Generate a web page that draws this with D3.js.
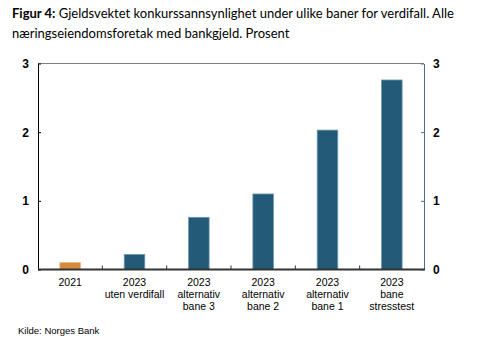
<!DOCTYPE html>
<html><head><meta charset="utf-8">
<script src="https://cdn.jsdelivr.net/npm/d3@7"></script>
<style>body{margin:0;background:#fff}svg{display:block}</style>
</head><body>
<svg id="c" width="488" height="346"></svg>
<script>
const categories = [["2021"],["2023","uten verdifall"],["2023","alternativ","bane 3"],["2023","alternativ","bane 2"],["2023","alternativ","bane 1"],["2023","bane","stresstest"]];
const values = [0.1, 0.22, 0.76, 1.1, 2.03, 2.76];
const barColors = ["#D48B3C","#225A78","#225A78","#225A78","#225A78","#225A78"];
const yTicks = [0,1,2,3];

const svg = d3.select("#c");
const L=38, R=424, T=63.5, B=269.5;
const x = d3.scaleBand().domain(d3.range(categories.length)).range([L,R]).paddingInner(0.68).paddingOuter(0.34);
const y = d3.scaleLinear().domain([0,3]).range([B,T]);

// title
const title = svg.append("text").attr("x",12).attr("y",18).style("font-family","Lato, 'Open Sans', sans-serif").style("font-size","13px").attr("fill","#000");
title.append("tspan").attr("font-weight","bold").text("Figur 4:");
title.append("tspan").text(" Gjeldsvektet konkurssannsynlighet under ulike baner for verdifall. Alle");
svg.append("text").attr("x",12).attr("y",38).style("font-family","Lato, 'Open Sans', sans-serif").style("font-size","13px").text("næringseiendomsforetak med bankgjeld. Prosent");

// top border
svg.append("line").attr("x1",L).attr("x2",R).attr("y1",T).attr("y2",T).attr("stroke","#808080").attr("stroke-width",1);

// bars
svg.selectAll("rect.bar").data(values).join("rect").attr("class","bar")
  .attr("x",(d,i)=>x(i)).attr("width",x.bandwidth())
  .attr("y",d=>y(d)).attr("height",d=>B-y(d))
  .attr("fill",(d,i)=>barColors[i]).attr("stroke",(d,i)=>i===0?"#E8B27A":"#6E9AB3").attr("stroke-width",0.8);

// left axis
const yl = svg.append("g").attr("transform",`translate(${L},0)`)
  .call(d3.axisLeft(y).tickValues(yTicks).tickSize(-3).tickSizeOuter(0).tickPadding(9).tickFormat(d3.format("d")));
yl.select(".domain").attr("stroke","#000");
yl.selectAll(".tick line").attr("stroke","#000");
yl.selectAll("text").style("font-family","'Liberation Sans', Arial, sans-serif").style("font-size","12px").style("font-weight","bold").attr("fill","#000");

// right axis
const yr = svg.append("g").attr("transform",`translate(${R},0)`)
  .call(d3.axisRight(y).tickValues(yTicks).tickSize(-3).tickSizeOuter(0).tickPadding(9).tickFormat(d3.format("d")));
yr.select(".domain").attr("stroke","#4A6E86");
yr.selectAll(".tick line").attr("stroke","#4A6E86");
yr.selectAll("text").style("font-family","'Liberation Sans', Arial, sans-serif").style("font-size","12px").style("font-weight","bold").attr("fill","#000");

// bottom axis
const step = x.step();
const xb = svg.append("g").attr("transform",`translate(0,${B})`);
xb.append("line").attr("x1",L).attr("x2",R+1).attr("stroke","#333").attr("stroke-width",2);
xb.selectAll("line.sep").data(d3.range(1,categories.length)).join("line").attr("class","sep")
  .attr("x1",i=>L+i*(R-L)/categories.length).attr("x2",i=>L+i*(R-L)/categories.length)
  .attr("y1",0).attr("y2",-4).attr("stroke","#333");
const lab = svg.append("g").style("font-family","'Liberation Sans', Arial, sans-serif").style("font-size","10.5px").attr("fill","#000");
categories.forEach((lines,i)=>{
  const cx = x(i)+x.bandwidth()/2;
  const t = lab.append("text").attr("text-anchor","middle");
  lines.forEach((s,j)=>t.append("tspan").attr("x",cx).attr("y",286+j*12).text(s));
});

svg.append("text").attr("x",18).attr("y",334).style("font-family","'Liberation Sans', Arial, sans-serif").style("font-size","9.5px").text("Kilde: Norges Bank");
</script>
</body></html>
